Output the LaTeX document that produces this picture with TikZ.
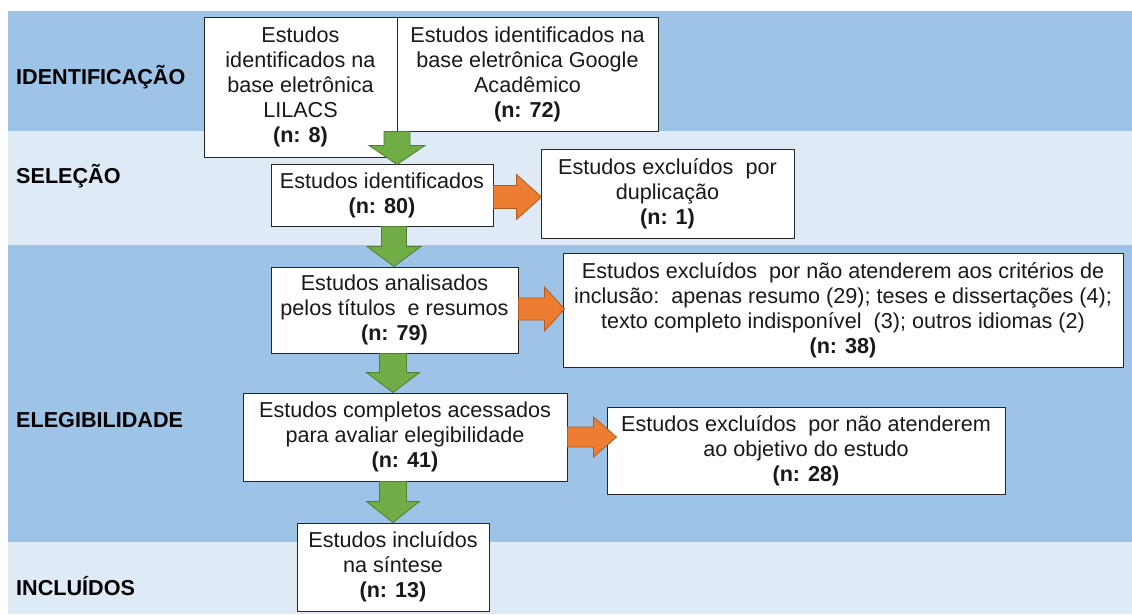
\documentclass[tikz,border=0pt]{standalone}
\usepackage{fontspec}
\setmainfont{Liberation Sans}
\usetikzlibrary{calc}
\definecolor{banddark}{HTML}{9DC3E6}
\definecolor{bandlight}{HTML}{DEEBF7}
\definecolor{arrgreen}{HTML}{70AD47}
\definecolor{arrgreenline}{HTML}{507E32}
\definecolor{arrorange}{HTML}{ED7D31}
\definecolor{arrorangeline}{HTML}{AE5A21}
\tikzset{
  boxnode/.style={draw=black!85, line width=1pt, fill=white, align=center, inner sep=0pt,
    font={\fontsize{21.6}{25}\selectfont}, text=black!90},
  stagelabel/.style={anchor=west, inner sep=0pt, font={\fontsize{21.6}{25}\selectfont\bfseries}, text=black},
  garrow/.style={fill=arrgreen, draw=arrgreenline, line width=0.8pt, line join=miter},
  oarrow/.style={fill=arrorange, draw=arrorangeline, line width=0.8pt, line join=miter}
}
\begin{document}
\begin{tikzpicture}[x=1pt,y=-1pt]
\useasboundingbox (0,0) rectangle (1132,614);
% bands
\fill[banddark] (8,11) rectangle (1132,131);
\fill[bandlight] (8,131) rectangle (1132,245);
\fill[banddark] (8,245) rectangle (1132,542);
\fill[bandlight] (8,542) rectangle (1132,614);
% stage labels
\node[stagelabel] (lid) at (16,77) {IDENTIFICAÇÃO};
\node[stagelabel] (lse) at (16,176) {SELEÇÃO};
\node[stagelabel] (lel) at (16,420) {ELEGIBILIDADE};
\node[stagelabel] (lin) at (16,586) {INCLUÍDOS};
% boxes
\node[boxnode, minimum width=193pt, minimum height=140pt] (lil) at (300.5,87)
  {Estudos\\identificados na\\base eletrônica\\LILACS\\\textbf{(n: 8)}};
\node[boxnode, minimum width=261pt, minimum height=114pt] (goo) at (527.5,74)
  {Estudos identificados na\\base eletrônica Google\\Acadêmico\\\textbf{(n: 72)}};
\node[boxnode, minimum width=222pt, minimum height=62pt] (ident) at (382,195)
  {Estudos identificados\\\textbf{(n: 80)}};
\node[boxnode, minimum width=253pt, minimum height=89pt] (dup) at (667.5,193.5)
  {Estudos excluídos\ \ por\\duplicação\\\textbf{(n: 1)}};
\node[boxnode, minimum width=247pt, minimum height=86pt] (anal) at (394.5,310)
  {Estudos analisados\\pelos títulos\ \ e resumos\\\textbf{(n: 79)}};
\node[boxnode, minimum width=560pt, minimum height=114pt] (ex38) at (843,310)
  {Estudos excluídos\ \ por não atenderem aos critérios de\\inclusão:\ \ apenas resumo (29); teses e dissertações (4);\\texto completo indisponível\ \ (3); outros idiomas (2)\\\textbf{(n: 38)}};
\node[boxnode, minimum width=324pt, minimum height=88pt] (comp) at (405,437)
  {Estudos completos acessados\\para avaliar elegibilidade\\\textbf{(n: 41)}};
\node[boxnode, minimum width=398pt, minimum height=87pt] (ex28) at (806,450.5)
  {Estudos excluídos\ \ por não atenderem\\ao objetivo do estudo\\\textbf{(n: 28)}};
\node[boxnode, minimum width=192pt, minimum height=88pt] (inc) at (393,567)
  {Estudos incluídos\\na síntese\\\textbf{(n: 13)}};
% column / row helpers
\coordinate (cg1) at (397,0);
\coordinate (cg2) at (394,0);
\coordinate (cg3) at (393,0);
\coordinate (ro1) at (0,197);
\coordinate (ro2) at (0,309);
\coordinate (ro3) at (0,437);
% green down arrows
\draw[garrow] let \p1=(cg1 |- goo.south), \p2=(cg1 |- ident.north) in
  (\x1-13pt,\y1) -- (\x1-13pt,\y2+18pt) -- (\x1-28pt,\y2+18pt) -- (\x1,\y2-1pt)
  -- (\x1+28pt,\y2+18pt) -- (\x1+13pt,\y2+18pt) -- (\x1+13pt,\y1) -- cycle;
\draw[garrow] let \p1=(cg2 |- ident.south), \p2=(cg2 |- anal.north) in
  (\x1-12.5pt,\y1) -- (\x1-12.5pt,\y2+20pt) -- (\x1-27pt,\y2+20pt) -- (\x1,\y2)
  -- (\x1+27pt,\y2+20pt) -- (\x1+12.5pt,\y2+20pt) -- (\x1+12.5pt,\y1) -- cycle;
\draw[garrow] let \p1=(cg3 |- anal.south), \p2=(cg3 |- comp.north) in
  (\x1-13.5pt,\y1) -- (\x1-13.5pt,\y2+20pt) -- (\x1-26.5pt,\y2+20pt) -- (\x1,\y2)
  -- (\x1+26.5pt,\y2+20pt) -- (\x1+13.5pt,\y2+20pt) -- (\x1+13.5pt,\y1) -- cycle;
\draw[garrow] let \p1=(cg3 |- comp.south), \p2=(cg3 |- inc.north) in
  (\x1-13.5pt,\y1) -- (\x1-13.5pt,\y2+21pt) -- (\x1-26.5pt,\y2+21pt) -- (\x1,\y2)
  -- (\x1+26.5pt,\y2+21pt) -- (\x1+13.5pt,\y2+21pt) -- (\x1+13.5pt,\y1) -- cycle;
% orange right arrows
\draw[oarrow] let \p1=(ident.east |- ro1), \p2=(dup.west |- ro1) in
  (\x1,\y1+11.5pt) -- (\x2-24pt,\y1+11.5pt) -- (\x2-24pt,\y1+22.5pt) -- (\x2+1pt,\y1)
  -- (\x2-24pt,\y1-22.5pt) -- (\x2-24pt,\y1-11.5pt) -- (\x1,\y1-11.5pt) -- cycle;
\draw[oarrow] let \p1=(anal.east |- ro2), \p2=(ex38.west |- ro2) in
  (\x1,\y1+11pt) -- (\x2-18pt,\y1+11pt) -- (\x2-18pt,\y1+22pt) -- (\x2+2pt,\y1)
  -- (\x2-18pt,\y1-22pt) -- (\x2-18pt,\y1-11pt) -- (\x1,\y1-11pt) -- cycle;
\draw[oarrow] let \p1=(comp.east |- ro3), \p2=(ex28.west |- ro3) in
  (\x1,\y1+10pt) -- (\x2-13pt,\y1+10pt) -- (\x2-13pt,\y1+20pt) -- (\x2+10pt,\y1)
  -- (\x2-13pt,\y1-20pt) -- (\x2-13pt,\y1-10pt) -- (\x1,\y1-10pt) -- cycle;
\end{tikzpicture}
\end{document}
